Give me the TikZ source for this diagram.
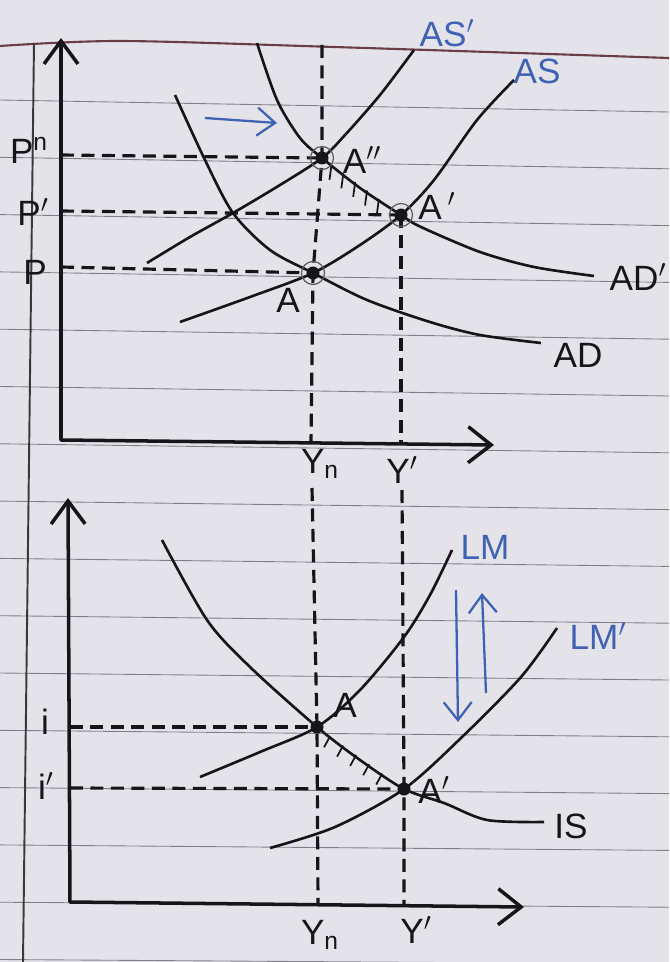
\documentclass[tikz,border=0pt]{standalone}
\usepackage{fontspec}
\setmainfont{Liberation Sans}
\usepackage{tikz}
\usetikzlibrary{arrows.meta, calc}
\definecolor{paper}{RGB}{229,227,234}
\definecolor{ruling}{RGB}{128,126,136}
\definecolor{redline}{RGB}{105,62,68}
\definecolor{pen}{RGB}{22,22,26}
\definecolor{bluepen}{RGB}{64,98,178}
\tikzset{
  axisline/.style={draw=pen, line width=2pt, line join=round,
                   {Straight Barb[length=4.6mm, width=6.8mm]}-{Straight Barb[length=4.6mm, width=7.2mm]}},
  curve/.style={draw=pen, line width=1.5pt},
  guide/.style={draw=pen, line width=1.8pt, dash pattern=on 2.6mm off 1.5mm},
  bluearrow/.style={draw=bluepen, line width=1.3pt, -{Straight Barb[length=3.6mm, width=5.6mm]}},
  lbl/.style={font=\fontsize{20}{22}\selectfont, text=pen, inner sep=0pt},
  bluelbl/.style={lbl, text=bluepen},
  dot/.style={circle, fill=pen, minimum size=2.6mm, inner sep=0pt},
  ring/.style={circle, draw=pen!70, line width=0.7pt, minimum size=4.6mm, inner sep=0pt},
  hatch/.style={draw=pen, line width=1pt},
}

\begin{document}
\begin{tikzpicture}[x=0.02cm, y=-0.02cm]
  % notebook page
  \fill[paper] (0,0) rectangle (669,962);
  \useasboundingbox (0,0) rectangle (669,962);
  \foreach \k in {0,...,15}
    \draw[ruling, line width=0.5pt] (0,{100+57.3*\k}) -- (669,{112+56.8*\k});
  \draw[redline, line width=1.2pt] plot[smooth] coordinates {(0,46) (120,41) (334,47) (669,58)};
  \draw[pen!85, line width=1.1pt] (34,43) -- (23,962);

  % ---------- upper panel: AD / AS ----------
  \coordinate (O1)   at (61,440);
  \coordinate (ytop) at (61,38);
  \coordinate (xend) at (494,445);
  \coordinate (Ann)  at (322,158);
  \coordinate (Ap)   at (401,215);
  \coordinate (A)    at (313,273);
  \coordinate (pn)   at (61,155);
  \coordinate (pp)   at (61,211);
  \coordinate (p)    at (61,267);
  \coordinate (yntop) at (322,45);
  \coordinate (yn1)  at (311,442);
  \coordinate (yp1)  at (401,445);

  \draw[axisline] (ytop) -- (O1) -- (xend);
  \draw[guide] (pn) -- (Ann);
  \draw[guide] (pp) -- (Ap);
  \draw[guide] (p) -- (A);
  \draw[guide] (yntop) -- (Ann) -- (A) -- (yn1);
  \draw[guide] (Ap) -- (yp1);

  \draw[curve] plot[smooth] coordinates {(175,95) (205,160) (233,213) (270,250) (A) (367,300) (430,322) (480,335) (541,343)};
  \draw[curve] plot[smooth] coordinates {(257,43) (277,100) (300,138) (Ann) (360,188) (Ap) (421,227) (480,252) (534,267) (594,276)};
  \draw[curve] plot[smooth] coordinates {(180,322) (250,297) (A) (360,245) (Ap) (434,180) (477,120) (514,80)};
  \draw[curve] plot[smooth] coordinates {(147,263) (190,237) (233,213) (280,185) (Ann) (345,135) (380,95) (414,50)};

  \foreach \t in {0.12,0.27,0.42,0.57,0.72}
    \draw[hatch] ($(Ann)!\t!(Ap)$) -- ++(-2,15);

  \foreach \pt in {Ann, Ap, A} {
    \node[ring] (\pt ring) at (\pt) {};
    \node[dot] (\pt dot) at (\pt) {};
  }

  \coordinate (r1) at (205,118);
  \coordinate (r2) at (277,123);
  \draw[bluearrow] (r1) -- (r2);

  \node[bluelbl] (lASp) at (447,33) {AS$'$};
  \node[bluelbl] (lAS)  at (537,71) {AS};
  \node[lbl] (lADp) at (638,277) {AD$'$};
  \node[lbl] (lAD)  at (578,355) {AD};
  \node[lbl] (lAnn) at (362,160) {A$''$};
  \node[lbl] (lAp)  at (437,206) {A\,$'$};
  \node[lbl] (lA)   at (288,300) {A};
  \node[lbl] (lpn)  at (29,150) {P\textsuperscript{n}};
  \node[lbl] (lpp)  at (33,212) {P$'$};
  \node[lbl] (lp)   at (35,272) {P};
  \node[lbl] (lyn1) at (320,464) {Y\textsubscript{n}};
  \node[lbl] (lyp1) at (402,470) {Y$'$};

  % ---------- lower panel: IS / LM ----------
  \coordinate (O2)    at (70,902);
  \coordinate (ytop2) at (68,498);
  \coordinate (xend2) at (524,907);
  \coordinate (B)     at (317,727);
  \coordinate (Bp)    at (404,789);
  \coordinate (ii)    at (70,727);
  \coordinate (iip)   at (70,788);
  \coordinate (yn2a)  at (312,488);
  \coordinate (yn2)   at (318,903);
  \coordinate (yp2a)  at (402,490);
  \coordinate (yp2)   at (404,906);

  \draw[axisline] (ytop2) -- (O2) -- (xend2);
  \draw[guide] (ii) -- (B);
  \draw[guide] (iip) -- (Bp);
  \draw[guide] (yn2a) -- (B) -- (yn2);
  \draw[guide] (yp2a) -- (Bp) -- (yp2);

  \draw[curve] plot[smooth] coordinates {(162,540) (207,620) (250,667) (B) (360,760) (Bp) (444,803) (487,820) (544,822)};
  \draw[curve] plot[smooth] coordinates {(200,777) (260,752) (B) (360,690) (404,637) (430,595) (452,550)};
  \draw[curve] plot[smooth] coordinates {(270,848) (335,827) (Bp) (461,738) (521,677) (557,628)};

  \foreach \t in {0.15,0.3,0.45,0.6,0.75}
    \draw[hatch] ($(B)!\t!(Bp)$) -- ++(-6,11);

  \node[dot] (Bdot)  at (B) {};
  \node[dot] (Bpdot) at (Bp) {};

  \coordinate (dn1) at (456,590);
  \coordinate (dn2) at (458,722);
  \coordinate (up1) at (486,693);
  \coordinate (up2) at (482,593);
  \draw[bluearrow] (dn1) -- (dn2);
  \draw[bluearrow] (up1) -- (up2);

  \node[bluelbl] (lLM)  at (485,547) {LM};
  \node[bluelbl] (lLMp) at (598,636) {LM$'$};
  \node[lbl] (lIS) at (571,826) {IS};
  \node[lbl] (lB)  at (345,705) {A};
  \node[lbl] (lBp) at (434,790) {A$'$};
  \node[lbl] (li)  at (45,722) {i};
  \node[lbl] (lip) at (46,786) {i$'$};
  \node[lbl] (lyn2) at (320,935) {Y\textsubscript{n}};
  \node[lbl] (lyp2) at (416,930) {Y$'$};
\end{tikzpicture}
\end{document}
